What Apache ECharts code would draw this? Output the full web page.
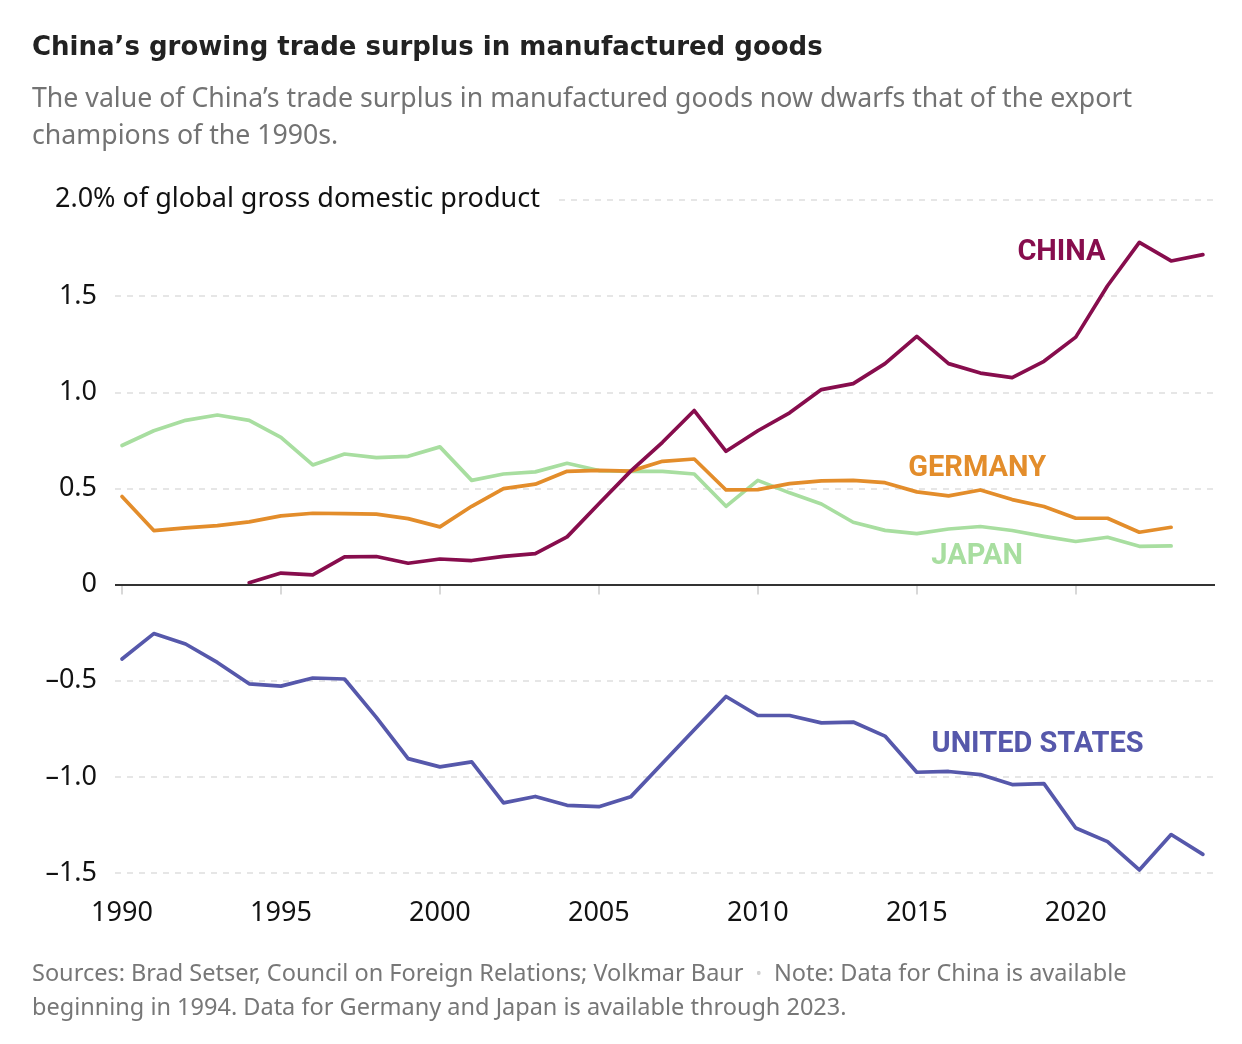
<!DOCTYPE html>
<html><head><meta charset="utf-8">
<script src="https://cdn.jsdelivr.net/npm/echarts@6/dist/echarts.min.js"></script>
<style>html,body{margin:0;padding:0;background:#fff}#c{width:1242px;height:1044px}</style>
</head><body><div id="c"></div>
<script>
const years = [1990,1991,1992,1993,1994,1995,1996,1997,1998,1999,2000,2001,2002,2003,2004,2005,2006,2007,2008,2009,2010,2011,2012,2013,2014,2015,2016,2017,2018,2019,2020,2021,2022,2023,2024];
const china = [null,null,null,null,0.01,0.06,0.05,0.144,0.146,0.111,0.133,0.125,0.147,0.161,0.248,0.42,0.59,0.74,0.905,0.693,0.80,0.893,1.014,1.045,1.149,1.291,1.149,1.10,1.076,1.161,1.287,1.554,1.78,1.683,1.716];
const germany = [0.458,0.281,0.295,0.307,0.326,0.357,0.371,0.369,0.366,0.343,0.300,0.407,0.499,0.522,0.589,0.594,0.59,0.641,0.653,0.492,0.494,0.525,0.539,0.542,0.530,0.482,0.461,0.492,0.442,0.406,0.345,0.345,0.272,0.298,null];
const japan = [0.723,0.80,0.854,0.882,0.854,0.766,0.622,0.679,0.660,0.667,0.716,0.542,0.575,0.586,0.631,0.593,0.589,0.589,0.575,0.407,0.542,0.477,0.419,0.324,0.282,0.265,0.289,0.302,0.281,0.251,0.224,0.246,0.199,0.201,null];
const us = [-0.387,-0.255,-0.309,-0.405,-0.516,-0.528,-0.486,-0.491,-0.691,-0.905,-0.948,-0.922,-1.135,-1.102,-1.148,-1.155,-1.104,-0.929,-0.755,-0.582,-0.681,-0.681,-0.719,-0.715,-0.788,-0.976,-0.972,-0.988,-1.04,-1.035,-1.266,-1.337,-1.484,-1.30,-1.403];
const xTicks = [1990,1995,2000,2005,2010,2015,2020];
const seriesNames = ['JAPAN','GERMANY','UNITED STATES','CHINA'];
const labelSpots = {CHINA:[2019.55,1.725], GERMANY:[2016.9,0.60], JAPAN:[2016.9,0.145], 'UNITED STATES':[2018.8,-0.835]};

const FONT = '"Noto Sans", Roboto, sans-serif';
const TITLEFONT = '"DejaVu Sans", "Noto Sans", sans-serif';
const LABELFONT = 'Roboto, "Noto Sans", sans-serif';
const colors = {CHINA:'#870d4d', GERMANY:'#e38d2b', JAPAN:'#a8dea0', 'UNITED STATES':'#5658ab'};
const dataMap = {CHINA:china, GERMANY:germany, JAPAN:japan, 'UNITED STATES':us};

function pairs(arr){ return years.map((y,i)=>[y, arr[i]]); }

const chart = echarts.init(document.getElementById('c'), null, {renderer:'canvas'});
const series = seriesNames.map(name => {
  const s = {
    name, type:'line', data: pairs(dataMap[name]), showSymbol:false, symbol:'none',
    connectNulls:false, silent:true,
    lineStyle:{color:colors[name], width:3.7, cap:'round', join:'round'},
    markPoint:{
      symbol:'circle', symbolSize:0, silent:true,
      data:[{coord:labelSpots[name], value:name}],
      label:{show:true, position:'inside', formatter:name, color:colors[name],
        fontFamily:LABELFONT, fontWeight:'bold', fontSize:29}
    }
  };
  if (name === 'CHINA') {
    s.markLine = {symbol:'none', silent:true, label:{show:false},
      lineStyle:{color:'#333', type:'solid', width:2},
      data:[{yAxis:0}]};
  }
  return s;
});

chart.setOption({
  animation:false,
  backgroundColor:'#fff',
  title:[
    {text:'China’s growing trade surplus in manufactured goods', left:27, top:30,
     textStyle:{fontFamily:TITLEFONT, fontWeight:'bold', fontSize:26, color:'#222'},
     subtext:'The value of China’s trade surplus in manufactured goods now dwarfs that of the export\nchampions of the 1990s.',
     subtextStyle:{fontFamily:FONT, fontSize:26.7, color:'#737373', lineHeight:37}, itemGap:20},
    {text:'Sources: Brad Setser, Council on Foreign Relations; Volkmar Baur  {dot|•}  Note: Data for China is available\nbeginning in 1994. Data for Germany and Japan is available through 2023.',
     left:27, top:952,
     textStyle:{fontFamily:FONT, fontWeight:'normal', fontSize:23.5, color:'#777', lineHeight:34,
       rich:{dot:{color:'#d0d0d0', fontSize:16, fontFamily:FONT}}}}
  ],
  graphic:[{type:'text', left:55, top:186, z:100,
    style:{text:'2.0% of global gross domestic product', font:'27px '+FONT, fill:'#121212',
      backgroundColor:'#fff', padding:[0,14,0,0]}}],
  grid:{left:115, right:27, top:200, bottom:171, containLabel:false},
  xAxis:{type:'value', min:1989.78, max:2024.38,
    axisLine:{show:false},
    splitLine:{show:false},
    axisTick:{show:true, customValues:xTicks, length:10, lineStyle:{color:'#ccc', width:1.5}},
    axisLabel:{customValues:xTicks, margin:27, fontFamily:FONT, fontSize:27, color:'#121212', formatter:v=>String(v)}
  },
  yAxis:{type:'value', min:-1.5, max:2, interval:0.5,
    axisLine:{show:false}, axisTick:{show:false},
    splitLine:{show:true, lineStyle:{color:'#dedede', width:1.5, type:[6,6]}},
    axisLabel:{margin:18, fontFamily:FONT, fontSize:27, color:'#121212',
      formatter:v=>{ if (v===2) return ''; if (v===0) return '0'; return (v<0?'–':'')+Math.abs(v).toFixed(1); }}
  },
  series
});
</script></body></html>
